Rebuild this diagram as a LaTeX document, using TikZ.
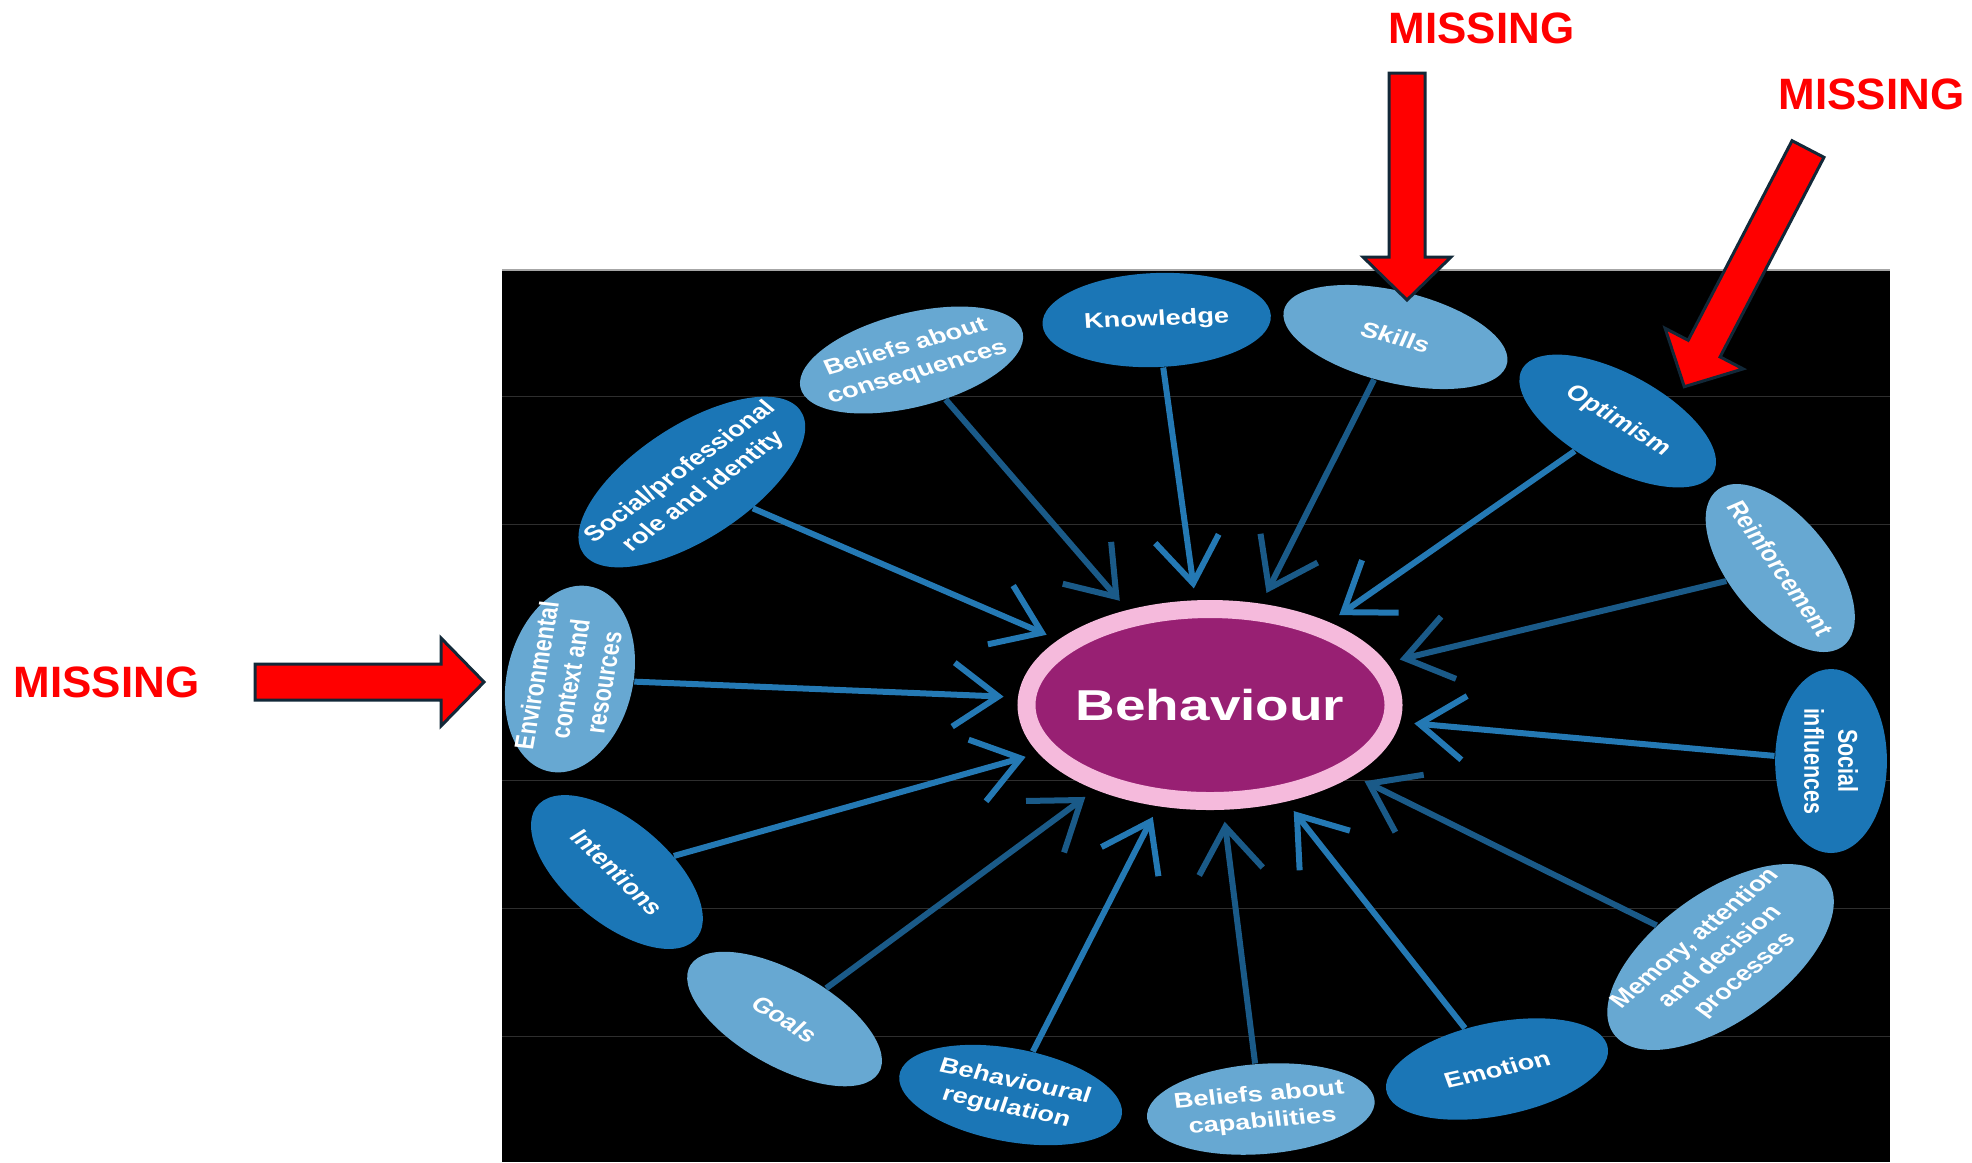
\documentclass[tikz,border=0pt]{standalone}
\usepackage{fontspec}
\setmainfont{Liberation Sans}
\usetikzlibrary{shapes.geometric,arrows.meta}

\definecolor{tdfdark}{RGB}{27,118,182}
\definecolor{tdflight}{RGB}{103,168,210}
\definecolor{arrbright}{RGB}{36,121,180}
\definecolor{arrdark}{RGB}{26,90,136}
\definecolor{behpurple}{RGB}{152,32,115}
\definecolor{behpink}{RGB}{245,186,220}
\definecolor{missred}{RGB}{255,0,0}
\definecolor{missline}{RGB}{18,40,56}

\begin{document}
\begin{tikzpicture}[
	tdfbox/.style={ellipse, inner sep=-6mm, minimum width=1.84cm, minimum height=0.9cm, text=white, align=center, font=\fontsize{6.1}{7.6}\selectfont\bfseries},
	darkdom/.style={tdfbox, fill=tdfdark},
	lightdom/.style={tdfbox, fill=tdflight},
	infl/.style={line width=0.6mm, -{Straight Barb[length=4.5mm, width=6.4mm]}, shorten >=1.2mm},
	missarrow/.style={fill=missred, draw=missline, line width=0.3mm, line join=miter},
	misstext/.style={text=missred, anchor=base west, inner sep=0pt, font=\fontsize{12.5}{15}\selectfont\bfseries}
	]
		%Rahmen
		\useasboundingbox (0,0) rectangle (19.72,-11.62);
		\fill[white] (0,0) rectangle (19.72,-11.62);
		\fill[black] (5.02,-2.70) rectangle (18.90,-11.62);
		\draw[gray!70, line width=0.2mm] (5.02,-2.70) -- (18.90,-2.70);
		\foreach \y in {3.96,5.24,7.80,9.08,10.36} {
			\draw[white!18!black, line width=0.1mm] (5.02,-\y) -- (18.90,-\y);
		}
		%Diagramm
		\begin{scope}[shift={(12.10,0)}, xscale=1.27, transform shape]
			\node[ellipse, fill=behpurple, draw=behpink, line width=1.8mm, inner sep=-2mm, minimum width=2.89cm, minimum height=1.92cm, text=white, font=\fontsize{12.3}{14}\selectfont\bfseries] (beh) at (0,-7.05) {Behaviour};
			%obere Reihe
			\node[darkdom, minimum width=1.80cm, minimum height=0.94cm, rotate=3] (know) at (-0.42,-3.20) {Knowledge};
			\node[lightdom, minimum height=0.92cm, rotate=20] (bcons) at (-2.35,-3.60) {Beliefs about\\consequences};
			\node[lightdom, rotate=-19] (skills) at (1.46,-3.37) {Skills};
			\node[darkdom, minimum height=0.88cm, rotate=-38] (optim) at (3.21,-4.21) {Optimism};
			\node[lightdom, minimum width=1.86cm, minimum height=0.86cm, rotate=-61] (reinf) at (4.49,-5.68) {Reinforcement};
			\node[darkdom, minimum height=0.88cm, rotate=-90] (socinf) at (4.89,-7.61) {Social\\influences};
			%untere Reihe
			\node[lightdom, minimum width=2.30cm, minimum height=1.16cm, rotate=47] (memory) at (4.02,-9.57) {Memory, attention\\and decision\\processes};
			\node[darkdom, minimum width=1.80cm, minimum height=0.92cm, rotate=16] (emotion) at (2.26,-10.69) {Emotion};
			\node[lightdom, minimum width=1.80cm, rotate=6] (bcap) at (0.40,-11.09) {Beliefs about\\capabilities};
			\node[darkdom, minimum width=1.80cm, minimum height=0.92cm, rotate=-15] (breg) at (-1.57,-10.95) {Behavioural\\regulation};
			\node[lightdom, minimum height=0.88cm, rotate=-39] (goals) at (-3.35,-10.19) {Goals};
			\node[darkdom, rotate=-51] (intent) at (-4.67,-8.72) {Intentions};
			%linke Seite
			\node[lightdom, minimum width=1.88cm, minimum height=1.0cm, rotate=82] (envir) at (-5.04,-6.79) {Environmental\\context and\\resources};
			\node[darkdom, minimum width=2.24cm, minimum height=1.04cm, rotate=43] (socprof) at (-4.08,-4.82) {Social/professional\\role and identity};
			%Pfeile
			\foreach \dom/\col in {know/arrbright, bcons/arrdark, skills/arrdark, optim/arrbright, reinf/arrdark, socinf/arrbright, memory/arrdark, emotion/arrbright, bcap/arrdark, breg/arrbright, goals/arrdark, intent/arrbright, envir/arrbright, socprof/arrbright} {
				\draw[infl, draw=\col] (\dom) -- (beh);
			}
		\end{scope}
		%Markierungen
		\foreach \x/\y/\w/\l in {2.55/-6.82/0/2.29, 14.07/-0.73/-90/2.27, 18.08/-1.49/-117.5/2.68} {
			\draw[missarrow, shift={(\x,\y)}, rotate=\w] (0,-0.18) -- (\l-0.43,-0.18) -- (\l-0.43,-0.44) -- (\l,0) -- (\l-0.43,0.44) -- (\l-0.43,0.18) -- (0,0.18) -- cycle;
		}
		\node[misstext] (misstop) at (13.88,-0.43) {MISSING};
		\node[misstext] (missright) at (17.78,-1.09) {MISSING};
		\node[misstext] (missleft) at (0.13,-6.97) {MISSING};
\end{tikzpicture}
\end{document}
